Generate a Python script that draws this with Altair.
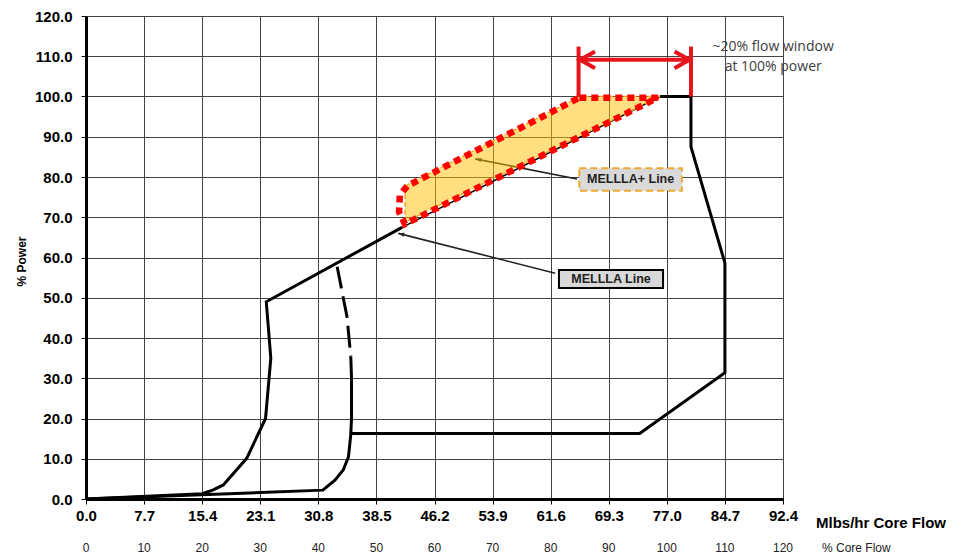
import altair as alt
import pandas as pd

# ---------------- data ----------------
x_ticks = [0.0, 7.7, 15.4, 23.1, 30.8, 38.5, 46.2, 53.9, 61.6, 69.3, 77.0, 84.7, 92.4]
y_ticks = [0, 10, 20, 30, 40, 50, 60, 70, 80, 90, 100, 110, 120]
pct_ticks = [0, 10, 20, 30, 40, 50, 60, 70, 80, 90, 100, 110, 120]
flow_at_100pct = 77.0  # Mlbs/hr at 100 % core flow

# upper-left boundary (pump / MELLLA line up to the MELLLA+ region)
a_flow = [0.0, 15.4, 16.8, 18.2, 21.3, 23.8, 24.5, 23.9, 41.9]
a_power = [0.0, 1.3, 2.2, 3.5, 10.1, 20.0, 35.0, 49.0, 67.5]
# MELLLA line under the MELLLA+ band
m_flow = [41.9, 76.1]
m_power = [67.5, 100.0]
# right / bottom boundary
c_flow = [76.1, 80.2, 80.2, 84.7, 84.7, 73.4, 35.0]
c_power = [100.0, 100.0, 87.5, 58.6, 31.4, 16.3, 16.3]
# natural circulation line (solid part)
b_flow = [0.0, 31.4, 33.0, 34.1, 34.8, 35.1, 35.2, 35.2, 35.1]
b_power = [0.0, 2.2, 4.7, 7.2, 10.5, 16.0, 20.0, 30.0, 35.4]
# natural circulation line (dashed part)
d_flow = [33.3, 34.6, 35.1]
d_power = [57.7, 45.3, 35.4]

# MELLLA+ band
band_flow = [42.3, 65.5, 76.1, 42.3, 42.3]
band_power = [77.8, 100.0, 100.0, 68.8, 77.8]
# red dotted outline of the band
red_flow = [65.4, 75.8, 42.3, 41.5, 41.6, 42.6, 65.4]
red_power = [99.7, 99.7, 68.3, 71.3, 75.5, 77.8, 99.7]

# red flow-window bracket
br_seg = ["left", "left", "right", "right", "mid", "mid"]
br_flow = [65.3, 65.3, 80.2, 80.2, 65.5, 80.0]
br_power = [100.0, 112.4, 100.0, 112.4, 109.1, 109.1]
br_tip_flow = [65.5, 80.0]
br_tip_power = [109.1, 109.1]
br_tip_side = ["left", "right"]
window_text = ["~20% flow window", "at 100% power"]
window_text_flow = [91.1, 91.1]
window_text_power = [112.4, 107.4]

# label boxes
box_name = ["MELLLA+ Line", "MELLLA Line"]
box_x1 = [65.4, 62.7]
box_x2 = [79.0, 76.5]
box_y1 = [82.2, 56.9]
box_y2 = [76.6, 52.4]
box_tx = [72.2, 69.6]
box_ty = [79.4, 54.6]
# leader arrows (box -> target)
arr_name = ["MELLLA+ Line", "MELLLA+ Line", "MELLLA Line", "MELLLA Line"]
arr_flow = [65.1, 51.6, 62.2, 41.4]
arr_power = [79.5, 84.5, 56.1, 66.0]
arr_tip_flow = [51.6, 41.4]
arr_tip_power = [84.5, 66.0]
arr_tip_angle = [11, 14]

# ---------------- helpers ----------------
FONT = "Liberation Sans"


def line_df(xs, ys):
    return pd.DataFrame({"x": xs, "y": ys, "o": list(range(len(xs)))})


xscale = alt.Scale(domain=[0, 92.4], nice=False, zero=False)
yscale = alt.Scale(domain=[0, 120], nice=False, zero=False)

x_axis = alt.Axis(
    values=x_ticks, format=".1f", title="Mlbs/hr Core Flow",
    titleX=729.5, titleY=23.7, titleAlign="left", titleBaseline="middle",
    titleFont=FONT, titleFontSize=15, titleFontWeight="bold", titleColor="black",
    labelFont=FONT, labelFontSize=15, labelFontWeight="bold", labelColor="black",
    labelPadding=4, labelFlush=False, labelOverlap=False,
    tickSize=5, tickColor="black", tickWidth=1,
    grid=True, gridColor="#444444", gridWidth=1,
    domainColor="black", domainWidth=3,
)
y_axis = alt.Axis(
    values=y_ticks, format=".1f", title="% Power",
    titleX=-64.5, titleY=245, titleAngle=-90, titleAlign="center", titleBaseline="middle",
    titleFont=FONT, titleFontSize=12, titleFontWeight="bold", titleColor="black",
    labelFont=FONT, labelFontSize=15, labelFontWeight="bold", labelColor="black",
    labelPadding=9, labelFlush=False, labelOverlap=False,
    tickSize=5, tickColor="black", tickWidth=1,
    grid=True, gridColor="#444444", gridWidth=1,
    domainColor="black", domainWidth=3,
)

X = alt.X("x:Q", scale=xscale, axis=x_axis)
Y = alt.Y("y:Q", scale=yscale, axis=y_axis)
X2 = alt.X2("x2:Q")
Y2 = alt.Y2("y2:Q")

# ---------------- layers ----------------
thick = dict(color="black", strokeWidth=3, strokeJoin="miter")

curve_a = alt.Chart(line_df(a_flow, a_power)).mark_line(**thick).encode(x=X, y=Y, order="o:Q")
curve_m = alt.Chart(line_df(m_flow, m_power)).mark_line(color="black", strokeWidth=1.5).encode(x=X, y=Y, order="o:Q")
curve_c = alt.Chart(line_df(c_flow, c_power)).mark_line(**thick).encode(x=X, y=Y, order="o:Q")
curve_b = alt.Chart(line_df(b_flow, b_power)).mark_line(**thick).encode(x=X, y=Y, order="o:Q")
curve_d = alt.Chart(line_df(d_flow, d_power)).mark_line(
    color="black", strokeWidth=3, strokeDash=[22, 8]).encode(x=X, y=Y, order="o:Q")

arr_df = pd.DataFrame({"name": arr_name, "x": arr_flow, "y": arr_power, "o": [0, 1, 0, 1]})
arrows = alt.Chart(arr_df).mark_line(color="#222222", strokeWidth=1.6).encode(
    x=X, y=Y, detail="name:N", order="o:Q")
arr_tip_df = pd.DataFrame({"x": arr_tip_flow, "y": arr_tip_power, "a": arr_tip_angle})
arrow_tips = alt.Chart(arr_tip_df).mark_point(
    shape="M0,0L2,-0.7L2,0.7Z", filled=True, size=36, color="#222222", opacity=1
).encode(x=X, y=Y, angle=alt.Angle("a:Q", scale=None))

band = alt.Chart(line_df(band_flow, band_power)).mark_line(
    fill="#ffc000", fillOpacity=0.5, stroke="#f0a830", strokeWidth=1.5, strokeDash=[5, 3]
).encode(x=X, y=Y, order="o:Q")

red_outline = alt.Chart(line_df(red_flow, red_power)).mark_line(
    color="#ff0000", strokeWidth=6.5, strokeDash=[7, 5], strokeCap="butt"
).encode(x=X, y=Y, order="o:Q")

br_df = pd.DataFrame({"seg": br_seg, "x": br_flow, "y": br_power})
bracket = alt.Chart(br_df).mark_line(color="#e8141c", strokeWidth=4, strokeCap="butt").encode(
    x=X, y=Y, detail="seg:N")
tip_df = pd.DataFrame({"x": br_tip_flow, "y": br_tip_power, "side": br_tip_side})
tip_left = alt.Chart(tip_df).transform_filter("datum.side == 'left'").mark_point(
    shape="M1.8,-1L0,0L1.8,1", filled=False, size=276, stroke="#e8141c", strokeWidth=4, opacity=1
).encode(x=X, y=Y)
tip_right = alt.Chart(tip_df).transform_filter("datum.side == 'right'").mark_point(
    shape="M-1.8,-1L0,0L-1.8,1", filled=False, size=276, stroke="#e8141c", strokeWidth=4, opacity=1
).encode(x=X, y=Y)

win_df = pd.DataFrame({"x": window_text_flow, "y": window_text_power, "t": window_text})
win_text = alt.Chart(win_df).mark_text(
    font="Open Sans", fontSize=14, color="#404040", align="center", baseline="middle"
).encode(x=X, y=Y, text="t:N")

box_df = pd.DataFrame({"name": box_name, "x": box_x1, "x2": box_x2, "y": box_y1, "y2": box_y2,
                       "tx": box_tx, "ty": box_ty})
box_plus = alt.Chart(box_df).transform_filter("datum.name == 'MELLLA+ Line'").mark_rect(
    fill="#d9d9d9", stroke="#f0a830", strokeWidth=2, strokeDash=[7, 4]
).encode(x=X, x2=X2, y=Y, y2=Y2)
box_plain = alt.Chart(box_df).transform_filter("datum.name == 'MELLLA Line'").mark_rect(
    fill="#d9d9d9", stroke="black", strokeWidth=2
).encode(x=X, x2=X2, y=Y, y2=Y2)
box_text = alt.Chart(box_df).mark_text(
    font=FONT, fontSize=12.5, fontWeight="bold", color="#222222", align="center", baseline="middle"
).encode(x=alt.X("tx:Q", scale=xscale, axis=x_axis), y=alt.Y("ty:Q", scale=yscale, axis=y_axis),
         text="name:N")

pct_df = pd.DataFrame({"pct": pct_ticks})
pct_labels = alt.Chart(pct_df).transform_calculate(
    x=f"datum.pct * {flow_at_100pct} / 100"
).mark_text(font=FONT, fontSize=12, color="#222222", baseline="middle", align="center").encode(
    x=X, y=alt.value(531.5), text="pct:Q")
pct_title = alt.Chart(pd.DataFrame({"t": ["% Core Flow"]})).mark_text(
    font=FONT, fontSize=12, color="#222222", baseline="middle", align="left"
).encode(x=alt.value(736), y=alt.value(531.5), text="t:N")

chart = alt.layer(
    curve_a, curve_m, curve_c, curve_b, curve_d,
    arrows, arrow_tips,
    band, red_outline,
    bracket, tip_left, tip_right, win_text,
    box_plus, box_plain, box_text,
    pct_labels, pct_title,
).properties(
    width=697, height=483,
    autosize=alt.AutoSizeParams(type="none"),
    padding={"left": 78, "top": 8, "right": 166, "bottom": 55},
).configure_view(stroke="black", strokeWidth=3).configure(background="white")

chart.save("out.html", embed_options={"renderer": "svg", "actions": False})
